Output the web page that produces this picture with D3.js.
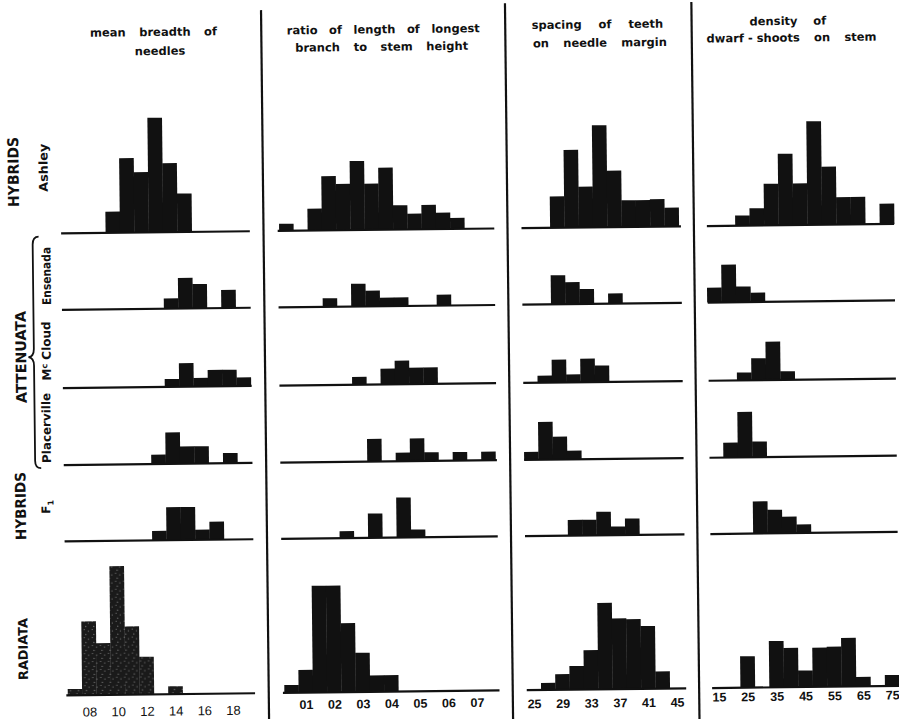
<!DOCTYPE html>
<html>
<head>
<meta charset="utf-8">
<script src="https://cdn.jsdelivr.net/npm/d3@7/dist/d3.min.js"></script>
<style>
html,body{margin:0;padding:0;background:#fff;}
svg{display:block;}
</style>
</head>
<body>
<svg id="chart" width="899" height="719"></svg>
<script>
// ================= DATA =================
const traitTitles = [
  ["mean breadth of", "needles"],
  ["ratio of length of longest", "branch to stem height"],
  ["spacing of teeth", "on needle margin"],
  ["density of", "dwarf - shoots on stem"]
];
const groupLabels = ["HYBRIDS", "ATTENUATA", "HYBRIDS", "RADIATA"];
const populations = ["Ashley", "Ensenada", "Mc Cloud", "Placerville", "F1", "Radiata"];

// mean breadth of needles (bin centres, width 0.1)
const breadthBins        = [0.7, 0.8, 0.9, 1.0, 1.1, 1.2, 1.3, 1.4, 1.5, 1.6, 1.7, 1.8, 1.9];
const breadthAshley      = [0, 0, 0, 2.7, 9.5, 7.7, 14.6, 8.8, 4.9, 0, 0, 0, 0];
const breadthEnsenada    = [0, 0, 0, 0, 0, 0, 0, 1.3, 3.9, 3.1, 0, 2.3, 0];
const breadthMcCloud     = [0, 0, 0, 0, 0, 0, 0, 1.0, 3.0, 1.1, 2.1, 2.1, 1.1];
const breadthPlacerville = [0, 0, 0, 0, 0, 0, 1.2, 4.0, 2.2, 2.2, 0, 1.3, 0];
const breadthF1          = [0, 0, 0, 0, 0, 0, 1.2, 4.2, 4.2, 1.3, 2.3, 0, 0];
const breadthRadiata     = [0.8, 9.4, 6.6, 16.4, 8.7, 4.8, 0, 1.0, 0, 0, 0, 0, 0];
const breadthTicks       = [0.8, 1.0, 1.2, 1.4, 1.6, 1.8];
const breadthTickLabels  = ["08", "10", "12", "14", "16", "18"];

// ratio of length of longest branch to stem height (bin centres, width 0.05)
const ratioBins        = [0.05, 0.10, 0.15, 0.20, 0.25, 0.30, 0.35, 0.40, 0.45, 0.50, 0.55, 0.60, 0.65, 0.70, 0.75];
const ratioAshley      = [0.9, 0, 2.8, 6.9, 5.9, 8.8, 5.9, 7.9, 3.1, 2.0, 3.1, 2.1, 1.4, 0, 0];
const ratioEnsenada    = [0, 0, 0, 1.1, 0, 2.9, 2.0, 1.1, 1.1, 0, 0, 1.4, 0, 0, 0];
const ratioMcCloud     = [0, 0, 0, 0, 0, 1.0, 0, 2.0, 3.0, 2.1, 2.1, 0, 0, 0, 0];
const ratioPlacerville = [0, 0, 0, 0, 0, 0, 2.9, 0, 1.1, 2.9, 1.1, 0, 1.1, 0, 1.1];
const ratioF1          = [0, 0, 0, 0, 0.9, 0, 3.1, 0, 5.1, 1.0, 0, 0, 0, 0, 0];
const ratioRadiata     = [1.0, 2.9, 13.6, 13.6, 8.8, 5.0, 2.1, 2.1, 0, 0, 0, 0, 0, 0, 0];
const ratioTicks       = [0.1, 0.2, 0.3, 0.4, 0.5, 0.6, 0.7];
const ratioTickLabels  = ["01", "02", "03", "04", "05", "06", "07"];

// spacing of teeth on needle margin (bin centres, width 2)
const teethBins        = [25, 27, 29, 31, 33, 35, 37, 39, 41, 43, 45];
const teethAshley      = [0, 0, 4.0, 9.9, 5.2, 13.0, 7.2, 3.4, 3.4, 3.5, 2.4];
const teethEnsenada    = [0, 0, 3.7, 2.8, 1.9, 0, 1.3, 0, 0, 0, 0];
const teethMcCloud     = [0, 0.9, 2.9, 1.0, 3.0, 2.1, 0, 0, 0, 0, 0];
const teethPlacerville = [1.0, 4.8, 2.9, 1.1, 0, 0, 0, 0, 0, 0, 0];
const teethF1          = [0, 0, 0, 2.0, 2.0, 3.0, 1.1, 2.1, 0, 0, 0];
const teethRadiata     = [0, 0.9, 2.0, 3.0, 5.0, 11.0, 9.0, 8.9, 8.0, 2.2, 0];
const teethTicks       = [25, 29, 33, 37, 41, 45];
const teethTickLabels  = ["25", "29", "33", "37", "41", "45"];

// density of dwarf-shoots on stem (bin centres, width 5)
const shootBins        = [15, 20, 25, 30, 35, 40, 45, 50, 55, 60, 65, 70, 75];
const shootAshley      = [0, 0, 1.3, 2.2, 5.3, 9.1, 5.3, 13.2, 7.4, 3.5, 3.5, 0, 2.6];
const shootEnsenada    = [1.9, 4.8, 2.0, 1.2, 0, 0, 0, 0, 0, 0, 0, 0, 0];
const shootMcCloud     = [0, 0, 1.0, 2.8, 4.9, 1.1, 0, 0, 0, 0, 0, 0, 0];
const shootPlacerville = [0, 1.9, 5.8, 2.0, 0, 0, 0, 0, 0, 0, 0, 0, 0];
const shootF1          = [0, 0, 0, 4.1, 3.0, 2.1, 1.1, 0, 0, 0, 0, 0, 0];
const shootRadiata     = [0, 0, 4.0, 0, 5.9, 5.0, 2.1, 5.0, 5.1, 6.2, 1.2, 0, 1.4];
const shootTicks       = [15, 25, 35, 45, 55, 65, 75];
const shootTickLabels  = ["15", "25", "35", "45", "55", "65", "75"];

// ================= LAYOUT =================
const rowBase = [229, 305.5, 383.7, 460.7, 537, 691];
const columns = [
  { bins: breadthBins, binW: 0.1,
    series: [breadthAshley, breadthEnsenada, breadthMcCloud, breadthPlacerville, breadthF1, breadthRadiata],
    ticks: breadthTicks, tickLabels: breadthTickLabels,
    domain: [0.65, 1.95], range: [64, 250.6], extent: [0.64, 1.955],
    titleX: [157.2, 163.5], titleY: [32.7, 51.7], titleW: [127, null],
    tickY: 707.7, tickWeight: "normal", tickSize: 13 },
  { bins: ratioBins, binW: 0.05,
    series: [ratioAshley, ratioEnsenada, ratioMcCloud, ratioPlacerville, ratioF1, ratioRadiata],
    ticks: ratioTicks, tickLabels: ratioTickLabels,
    domain: [0.025, 0.775], range: [280.6, 494.35], extent: [0.02, 0.78],
    titleX: [387, 385.2], titleY: [32.6, 50], titleW: [193, 173],
    tickY: 702.8, tickWeight: "bold", tickSize: 12.5 },
  { bins: teethBins, binW: 2,
    series: [teethAshley, teethEnsenada, teethMcCloud, teethPlacerville, teethF1, teethRadiata],
    ticks: teethTicks, tickLabels: teethTickLabels,
    domain: [24, 46], range: [523, 680.3], extent: [24, 46.3],
    titleX: [601.2, 603.5], titleY: [30, 48.4], titleW: [131.6, 134],
    tickY: 704.7, tickWeight: "bold", tickSize: 12.5 },
  { bins: shootBins, binW: 5,
    series: [shootAshley, shootEnsenada, shootMcCloud, shootPlacerville, shootF1, shootRadiata],
    ticks: shootTicks, tickLabels: shootTickLabels,
    domain: [12.5, 77.5], range: [707.8, 895.65], extent: [12.7, 77.5],
    titleX: [791.7, 795.2], titleY: [28.8, 45.5], titleW: [76.7, 170],
    tickY: 700, tickWeight: "bold", tickSize: 12.5 }
];
const dividers = [{x: 265, y0: 8}, {x: 509, y0: 4}, {x: 695.4, y0: 4.8}];
const groupLabelPos = [
  {x: 15.4, y: 167, size: 15, len: 70},
  {x: 21, y: 352.2, size: 14.5, len: 92},
  {x: 18.9, y: 501.1, size: 14.5, len: 68},
  {x: 19.7, y: 644.2, size: 13, len: 62}
];
const popLabelPos = [
  {x: 46.2, y: 163.1, len: 48},
  {x: 48, y: 271.4, len: 58},
  {x: 47.1, y: 346.4, len: null},
  {x: 46.2, y: 423.4, len: 70},
  {x: 44.8, y: 502.4, len: null}
];

const INK = "#111";
const svg = d3.select("#chart");
svg.append("rect").attr("width", 899).attr("height", 719).attr("fill", "#fff");

// stipple texture for the radiata breadth histogram
const defs = svg.append("defs");
const pat = defs.append("pattern").attr("id", "stipple")
  .attr("patternUnits", "userSpaceOnUse").attr("width", 8).attr("height", 8);
pat.append("rect").attr("width", 8).attr("height", 8).attr("fill", "#1a1a1a");
[[1.2, 1.5], [5.3, 3.1], [2.8, 6.4]].forEach(p =>
  pat.append("circle").attr("cx", p[0]).attr("cy", p[1]).attr("r", 0.55).attr("fill", "#8a8a8a"));

// whole sheet is slightly rotated, like the scanned figure
const root = svg.append("g").attr("transform", "rotate(-0.65,450,360)");

const hScale = d3.scaleLinear().domain([0, 20]).range([0, 157]);

columns.forEach((col, ci) => {
  const x = d3.scaleLinear().domain(col.domain).range(col.range);
  const g = root.append("g");

  // titles
  traitTitles[ci].forEach((line, li) => {
    const words = line.replace(" - ", "\u00a0-\u00a0").split(" ");
    const tg = g.append("g");
    const texts = words.map(w => tg.append("text").text(w)
      .attr("font-family", "DejaVu Sans").attr("font-weight", "bold")
      .attr("font-size", 11.5).attr("fill", INK).attr("y", col.titleY[li]));
    const widths = texts.map(t => t.node().getComputedTextLength());
    const natural = d3.sum(widths);
    let gap = 14;
    if (col.titleW[li] && words.length > 1) gap = (col.titleW[li] - natural) / (words.length - 1);
    const total = natural + gap * (words.length - 1);
    let cx = col.titleX[li] - total / 2;
    texts.forEach((t, i) => { t.attr("x", cx); cx += widths[i] + gap; });
  });

  // histograms
  col.series.forEach((vals, ri) => {
    const base = rowBase[ri];
    const data = col.bins.map((b, i) => ({c: b, v: vals[i]})).filter(d => d.v > 0);
    const fill = (ci === 0 && ri === 5) ? "url(#stipple)" : INK;
    g.append("g").selectAll("rect").data(data).join("rect")
      .attr("x", d => x(d.c - col.binW / 2))
      .attr("width", d => x(d.c + col.binW / 2) - x(d.c - col.binW / 2) + 0.3)
      .attr("y", d => base - hScale(d.v))
      .attr("height", d => hScale(d.v))
      .attr("fill", fill);
    g.append("line")
      .attr("x1", x(col.extent[0])).attr("x2", x(col.extent[1]))
      .attr("y1", base).attr("y2", base)
      .attr("stroke", INK).attr("stroke-width", 2.2);
  });

  // tick labels through a d3 axis
  const axis = d3.axisBottom(x).tickValues(col.ticks)
    .tickFormat((d, i) => col.tickLabels[i]).tickSize(0).tickPadding(0);
  const ag = g.append("g").attr("transform", `translate(0,${col.tickY})`).call(axis);
  ag.select(".domain").remove();
  ag.selectAll("text").attr("y", 0).attr("dy", "0.36em")
    .attr("font-family", "Liberation Sans").attr("font-weight", col.tickWeight)
    .attr("font-size", col.tickSize).attr("fill", INK);
});

// vertical dividers
root.selectAll("line.div").data(dividers).join("line").attr("class", "div")
  .attr("x1", d => d.x).attr("x2", d => d.x)
  .attr("y1", d => d.y0).attr("y2", 735)
  .attr("stroke", INK).attr("stroke-width", 2.2);

// group labels (rotated)
groupLabels.forEach((lab, i) => {
  const p = groupLabelPos[i];
  root.append("text").text(lab)
    .attr("transform", `translate(${p.x},${p.y}) rotate(-90)`)
    .attr("text-anchor", "middle").attr("dy", "0.36em")
    .attr("font-family", "DejaVu Sans").attr("font-weight", "bold")
    .attr("font-size", p.size)
    .attr("textLength", p.len).attr("lengthAdjust", "spacingAndGlyphs")
    .attr("fill", INK);
});

// population labels (rotated)
populations.slice(0, 5).forEach((lab, i) => {
  const p = popLabelPos[i];
  const t = root.append("text")
    .attr("transform", `translate(${p.x},${p.y}) rotate(-90)`)
    .attr("text-anchor", "middle").attr("dy", "0.3em")
    .attr("font-family", "DejaVu Sans").attr("font-weight", "bold")
    .attr("font-size", 12).attr("fill", INK);
  if (lab === "Mc Cloud") {
    t.append("tspan").text("M");
    t.append("tspan").text("c").attr("font-size", 8).attr("dy", "-0.45em");
    t.append("tspan").text(" Cloud").attr("dy", "0.3em");
  } else if (lab === "F1") {
    t.append("tspan").text("F");
    t.append("tspan").text("1").attr("font-size", 8).attr("dy", "0.45em");
  } else {
    t.text(lab);
    if (p.len) t.attr("textLength", p.len).attr("lengthAdjust", "spacingAndGlyphs");
  }
});

// brace grouping the attenuata populations
root.append("path")
  .attr("d", "M40,232 Q34,232 34,240 L34,344 Q34,352 28.5,352.3 Q34,353 34,361 L34,456 Q34,463.5 40,463.5")
  .attr("fill", "none").attr("stroke", INK).attr("stroke-width", 1.8);
</script>
</body>
</html>
